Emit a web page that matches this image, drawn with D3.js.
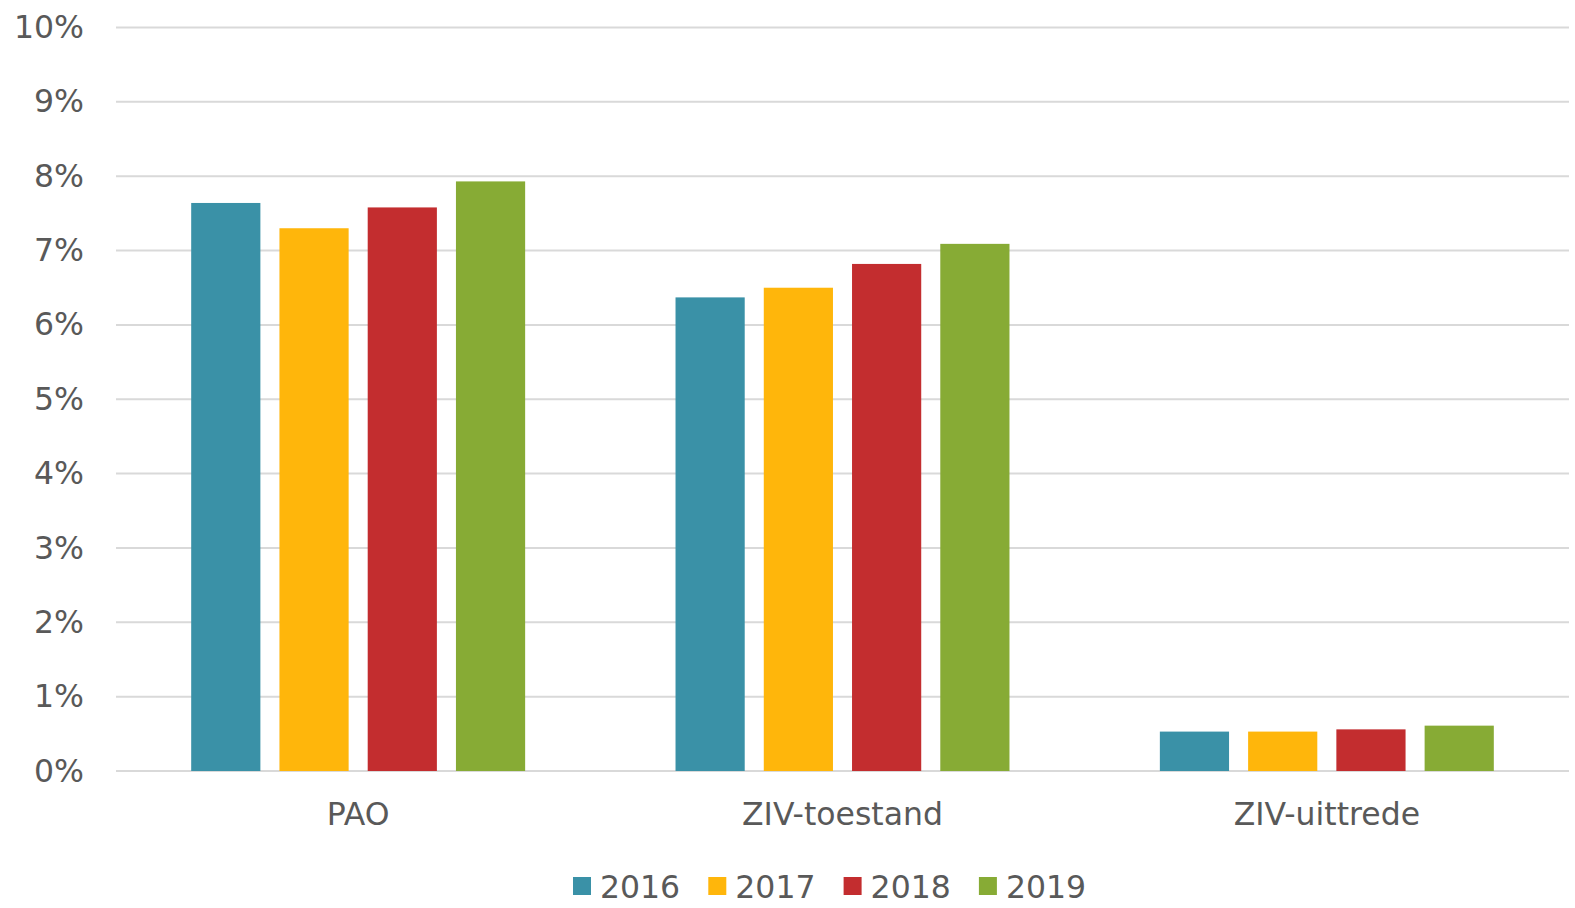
<!DOCTYPE html>
<meta charset="utf-8">
<script src="https://d3js.org/d3.v7.min.js"></script>
<style>
  body { margin: 0; background: #fff; }
  text { font-family: "DejaVu Sans", Verdana, sans-serif; fill: #595959; }
</style>
<div id="my_dataviz"></div>
<script>

// data (percent)
var categories = ["PAO", "ZIV-toestand", "ZIV-uittrede"];
var years = ["2016", "2017", "2018", "2019"];
var v2016 = [7.64, 6.37, 0.53];
var v2017 = [7.30, 6.50, 0.53];
var v2018 = [7.58, 6.82, 0.56];
var v2019 = [7.93, 7.09, 0.61];
var yTicks = [0, 1, 2, 3, 4, 5, 6, 7, 8, 9, 10];
var colors = ["#3A91A7", "#FFB60B", "#C32D2F", "#87AB35"];

var series = [v2016, v2017, v2018, v2019];

var W = 1575, H = 908;
var margin = {top: 27.5, right: 6, bottom: 137, left: 116};
var width = W - margin.left - margin.right,
    height = H - margin.top - margin.bottom;
var fs = "31.5px";

var svg = d3.select("#my_dataviz")
  .append("svg")
    .attr("width", W)
    .attr("height", H)
  .append("g")
    .attr("transform", "translate(" + margin.left + "," + margin.top + ")");

var x0 = d3.scaleBand()
  .domain(categories)
  .range([0, width])
  .padding(0);

var x1 = d3.scaleBand()
  .domain(years)
  .range([0, x0.bandwidth()])
  .paddingInner(0.216)
  .paddingOuter(0.852);

var y = d3.scaleLinear()
  .domain([0, 10])
  .range([height, 0]);

// gridlines
svg.append("g")
  .selectAll("line")
  .data(yTicks)
  .enter()
  .append("line")
    .attr("x1", 0)
    .attr("x2", width)
    .attr("y1", function(d) { return y(d); })
    .attr("y2", function(d) { return y(d); })
    .attr("stroke", "#d9d9d9")
    .attr("stroke-width", 2);

// y axis labels
var yAxis = svg.append("g")
  .call(d3.axisLeft(y).tickValues(yTicks).tickSize(0).tickPadding(32)
    .tickFormat(function(d) { return d + "%"; }));
yAxis.select(".domain").remove();
yAxis.selectAll("text")
  .style("font-size", fs)
  .style("font-family", "DejaVu Sans, Verdana, sans-serif")
  .attr("fill", "#595959");

// bars
var groups = svg.append("g")
  .selectAll("g")
  .data(categories)
  .enter()
  .append("g")
    .attr("transform", function(d) { return "translate(" + x0(d) + ",0)"; });

groups.selectAll("rect")
  .data(function(d, i) {
    return years.map(function(yr, j) { return {year: yr, value: series[j][i], c: colors[j]}; });
  })
  .enter()
  .append("rect")
    .attr("x", function(d) { return x1(d.year); })
    .attr("width", x1.bandwidth())
    .attr("y", function(d) { return y(d.value); })
    .attr("height", function(d) { return y(0) - y(d.value); })
    .attr("fill", function(d) { return d.c; });

// x axis labels
var xAxis = svg.append("g")
  .attr("transform", "translate(0," + height + ")")
  .call(d3.axisBottom(x0).tickSize(0).tickPadding(32));
xAxis.select(".domain").remove();
xAxis.selectAll("text")
  .style("font-size", fs)
  .style("font-family", "DejaVu Sans, Verdana, sans-serif")
  .attr("fill", "#595959");

// legend
var legend = svg.append("g")
  .attr("transform", "translate(" + (573 - margin.left) + "," + (877 - margin.top) + ")");

var item = legend.selectAll("g")
  .data(years)
  .enter()
  .append("g")
    .attr("transform", function(d, i) { return "translate(" + (i * 135.3) + ",0)"; });

item.append("rect")
  .attr("width", 18)
  .attr("height", 18)
  .attr("fill", function(d, i) { return colors[i]; });

item.append("text")
  .attr("x", 27)
  .attr("y", 21)
  .style("font-size", fs)
  .text(function(d) { return d; });

</script>
